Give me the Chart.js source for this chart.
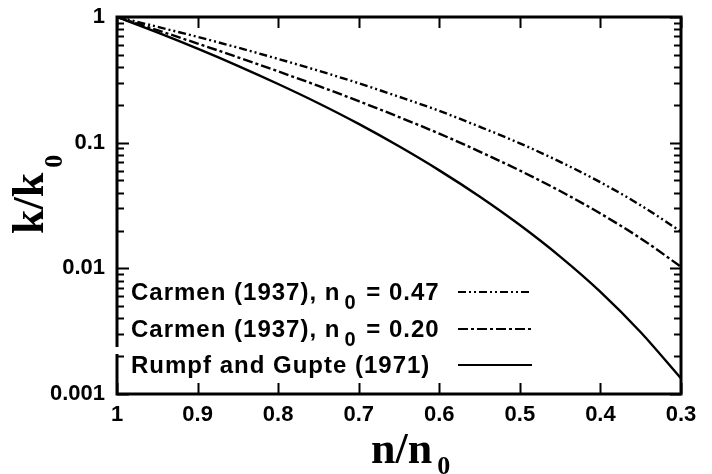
<!DOCTYPE html>
<html>
<head>
<meta charset="utf-8">
<script src="https://cdn.jsdelivr.net/npm/chart.js@4.4.1/dist/chart.umd.min.js"></script>
<style>
  html, body { margin: 0; padding: 0; background: #fff; }
  #wrap { width: 712px; height: 474px; }
</style>
</head>
<body>
<div id="wrap"><canvas id="chart" width="712" height="474"></canvas></div>
<script>
// porosity ratio n/n0 (x axis runs from 1 down to 0.3)
const nRatio = [1.00, 0.95, 0.90, 0.85, 0.80, 0.75, 0.70, 0.65, 0.60, 0.55, 0.50, 0.45, 0.40, 0.35, 0.30];

// k/k0
const carmen047 = [1, 0.836, 0.694, 0.571, 0.464, 0.374, 0.297, 0.232, 0.179, 0.134, 0.0988, 0.0704, 0.0484, 0.0317, 0.0196];
const carmen020 = [1, 0.786, 0.615, 0.478, 0.369, 0.283, 0.214, 0.160, 0.118, 0.085, 0.060, 0.0412, 0.0273, 0.0173, 0.0103];
const rumpfGupte = [1, 0.754, 0.560, 0.409, 0.293, 0.206, 0.141, 0.0935, 0.0602, 0.0373, 0.0221, 0.0124, 0.0065, 0.0031, 0.00133];

const seriesLabels = ['Carmen (1937), n_0 = 0.47', 'Carmen (1937), n_0 = 0.20', 'Rumpf and Gupte (1971)'];
const seriesDashes = [[8, 3, 2, 3, 2, 3], [10, 3, 3, 3], []];

const xTicks = [1, 0.9, 0.8, 0.7, 0.6, 0.5, 0.4, 0.3];
const yTicks = [1, 0.1, 0.01, 0.001];

const toPoints = (ys) => ys.map((y, i) => ({ x: nRatio[i], y }));

const LEGEND_FONT = 'bold 24px "Liberation Sans", Arial, sans-serif';
const LEGEND_SUB_FONT = 'bold 20px "Liberation Sans", Arial, sans-serif';
const TITLE_FONT = 'bold 44px "Liberation Serif", "Times New Roman", serif';
const TITLE_SUB_FONT = 'bold 26px "Liberation Serif", "Times New Roman", serif';

// frame, inward tick marks, axis titles and the boxed legend
const framePlugin = {
  id: 'frame',
  afterDraw(chart) {
    const { ctx, chartArea: a, scales } = chart;
    const xs = scales.x, ys = scales.y;
    ctx.save();
    ctx.strokeStyle = '#000';

    // minor ticks on the log axis
    ctx.lineWidth = 2;
    for (let d = 0.001; d < 1; d *= 10) {
      for (let m = 2; m <= 9; m++) {
        const py = Math.round(ys.getPixelForValue(d * m)) + 0.5;
        ctx.beginPath();
        ctx.moveTo(a.left, py); ctx.lineTo(a.left + 7, py);
        ctx.moveTo(a.right, py); ctx.lineTo(a.right - 7, py);
        ctx.stroke();
      }
    }
    // major ticks
    yTicks.forEach((v) => {
      const py = Math.round(ys.getPixelForValue(v)) + 0.5;
      ctx.beginPath();
      ctx.moveTo(a.left, py); ctx.lineTo(a.left + 12, py);
      ctx.moveTo(a.right, py); ctx.lineTo(a.right - 11, py);
      ctx.stroke();
    });
    xTicks.forEach((v) => {
      const px = Math.round(xs.getPixelForValue(v)) + 0.5;
      ctx.beginPath();
      ctx.moveTo(px, a.top); ctx.lineTo(px, a.top + 11);
      ctx.moveTo(px, a.bottom); ctx.lineTo(px, a.bottom - 11);
      ctx.stroke();
    });

    // box
    ctx.lineWidth = 3;
    ctx.strokeRect(a.left, a.top, a.right - a.left, a.bottom - a.top);

    // legend
    ctx.fillStyle = '#fff';
    ctx.fillRect(a.left - 3, 347, 6, 7);
    const rowBase = [300, 337, 373];
    chart.data.datasets.forEach((ds, i) => {
      const base = rowBase[i];
      let x = a.left + 14;
      ctx.fillStyle = '#000';
      ctx.textAlign = 'left';
      ctx.textBaseline = 'alphabetic';
      ctx.letterSpacing = '1px';
      const parts = ds.label.split('_');
      ctx.font = LEGEND_FONT;
      ctx.fillText(parts[0], x, base);
      x += ctx.measureText(parts[0]).width;
      if (parts.length > 1) {
        const sub = parts[1].charAt(0);
        const tail = parts[1].slice(1);
        ctx.font = LEGEND_SUB_FONT;
        ctx.fillText(sub, x + 4, base + 9);
        x += 4 + ctx.measureText(sub).width + 2;
        ctx.font = LEGEND_FONT;
        ctx.fillText(tail, x, base);
      }
      ctx.letterSpacing = '0px';
      ctx.lineWidth = 2;
      ctx.setLineDash(ds.borderDash);
      ctx.beginPath();
      ctx.moveTo(458, base - 8);
      ctx.lineTo(532, base - 8);
      ctx.stroke();
      ctx.setLineDash([]);
    });

    // axis titles
    ctx.fillStyle = '#000';
    ctx.textAlign = 'left';
    ctx.textBaseline = 'alphabetic';
    ctx.font = TITLE_FONT;
    const xMain = 'n/n';
    ctx.fillText(xMain, 371, 463);
    const xw = ctx.measureText(xMain).width;
    ctx.font = TITLE_SUB_FONT;
    ctx.fillText('0', 371 + xw + 5, 474);

    ctx.save();
    ctx.translate(43, 234);
    ctx.rotate(-Math.PI / 2);
    ctx.font = TITLE_FONT;
    const yMain = 'k/k';
    ctx.fillText(yMain, 0, 0);
    const yw = ctx.measureText(yMain).width;
    ctx.font = TITLE_SUB_FONT;
    ctx.fillText('0', yw + 5, 19);
    ctx.restore();

    ctx.restore();
  }
};

new Chart(document.getElementById('chart'), {
  type: 'line',
  data: {
    datasets: [carmen047, carmen020, rumpfGupte].map((ys, i) => ({
      label: seriesLabels[i],
      data: toPoints(ys),
      borderColor: '#000',
      borderWidth: 2.4,
      borderDash: seriesDashes[i],
      pointRadius: 0,
      fill: false,
      cubicInterpolationMode: 'monotone'
    }))
  },
  options: {
    responsive: false,
    animation: false,
    devicePixelRatio: 1,
    layout: { padding: { left: 0, right: 31, top: 17, bottom: 0 } },
    plugins: {
      legend: { display: false },
      tooltip: { enabled: false }
    },
    scales: {
      x: {
        type: 'linear',
        reverse: true,
        min: 0.3,
        max: 1,
        afterBuildTicks: (scale) => { scale.ticks = xTicks.map((v) => ({ value: v })); },
        afterFit: (scale) => { scale.height = 80; scale.paddingLeft = 0; scale.paddingRight = 0; },
        grid: { display: false, drawTicks: false },
        border: { display: false },
        ticks: {
          autoSkip: false,
          maxRotation: 0,
          padding: 8,
          color: '#000',
          font: { family: '"Liberation Sans", Arial, sans-serif', size: 22, weight: 'bold' },
          callback: (v) => (v === 1 ? '1' : v.toFixed(1))
        }
      },
      y: {
        type: 'logarithmic',
        min: 0.001,
        max: 1,
        afterBuildTicks: (scale) => { scale.ticks = yTicks.map((v) => ({ value: v })); },
        afterFit: (scale) => { scale.width = 117; scale.paddingTop = 0; scale.paddingBottom = 0; },
        grid: { display: false, drawTicks: false },
        border: { display: false },
        ticks: {
          autoSkip: false,
          padding: 12,
          color: '#000',
          font: { family: '"Liberation Sans", Arial, sans-serif', size: 22, weight: 'bold' },
          callback: (v) => String(v)
        }
      }
    }
  },
  plugins: [framePlugin]
});
</script>
</body>
</html>
